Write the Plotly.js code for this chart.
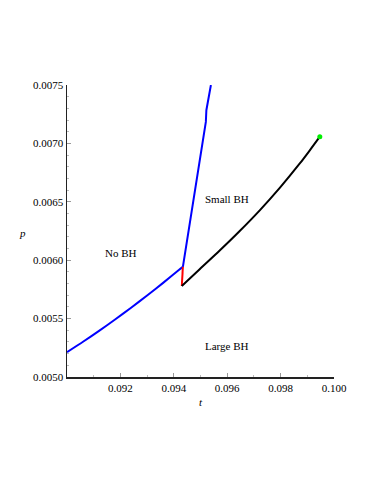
<!DOCTYPE html>
<html>
<head>
<meta charset="utf-8">
<script src="https://cdn.plot.ly/plotly-3.0.1.min.js"></script>
<style>
  html, body { margin: 0; padding: 0; background: #fff; }
  #chart { width: 374px; height: 484px; }
</style>
</head>
<body>
<div id="chart"></div>
<script>
// Phase boundaries in the (t, p) plane
const noBhT = [0.0900, 0.0906, 0.0912, 0.0918, 0.0924, 0.0930, 0.0936, 0.0942, 0.09434];
const noBhP = [0.005213, 0.005302, 0.005395, 0.005492, 0.005593, 0.005698, 0.005806, 0.005918, 0.005943];

const smallBhT = [0.09434, 0.09509, 0.09520, 0.09522, 0.09539];
const smallBhP = [0.005943, 0.007027, 0.007184, 0.007284, 0.007500];

const redT = [0.09434, 0.09430];
const redP = [0.005943, 0.005779];

const largeBhT = [0.09430, 0.094969, 0.095719, 0.096469, 0.097219, 0.097969, 0.098719, 0.099094, 0.099469];
const largeBhP = [0.005779, 0.005923, 0.006083, 0.006250, 0.006427, 0.006619, 0.006828, 0.006941, 0.007058];

const critT = [0.099469];
const critP = [0.007058];

const xTicks = [0.092, 0.094, 0.096, 0.098, 0.100];
const yTicks = [0.0050, 0.0055, 0.0060, 0.0065, 0.0070, 0.0075];

const regionNames = ['No BH', 'Small BH', 'Large BH'];
const regionT = [0.09203, 0.09599, 0.09599];
const regionP = [0.006064, 0.006521, 0.005269];

const serif = "'Liberation Serif', 'Times New Roman', Times, serif";

const data = [
  { x: noBhT, y: noBhP, mode: 'lines', line: { color: '#0000ff', width: 2, shape: 'spline', smoothing: 0.6 } },
  { x: smallBhT, y: smallBhP, mode: 'lines', line: { color: '#0000ff', width: 2 } },
  { x: redT, y: redP, mode: 'lines', line: { color: '#ff0000', width: 2 } },
  { x: largeBhT, y: largeBhP, mode: 'lines', line: { color: '#000000', width: 2, shape: 'spline', smoothing: 0.8 } },
  { x: critT, y: critP, mode: 'markers', marker: { color: '#00ee00', size: 5 } }
];

// plot box in pixels
const L = 67, R = 40, T = 85, B = 107, W = 374, H = 484;
const pw = W - L - R, ph = H - T - B;

const annotations = regionNames.map((name, i) => ({
  x: regionT[i], y: regionP[i], xref: 'x', yref: 'y',
  text: name, showarrow: false,
  font: { family: serif, size: 11, color: '#000' }
}));
// axis titles, placed like the original (t under the axis, p left of it, not rotated)
annotations.push({
  x: 0.5, y: 1 - (402 - T) / ph, xref: 'paper', yref: 'paper',
  text: '<i>t</i>', showarrow: false, yanchor: 'middle',
  font: { family: serif, size: 11, color: '#000' }
});
annotations.push({
  x: (22.7 - L) / pw, y: 1 - (232.7 - T) / ph, xref: 'paper', yref: 'paper',
  text: '<i>p</i>', showarrow: false, xanchor: 'center',
  font: { family: serif, size: 11, color: '#000' }
});

const layout = {
  width: W, height: H,
  margin: { l: L, r: R, t: T, b: B },
  showlegend: false,
  paper_bgcolor: '#fff',
  plot_bgcolor: '#fff',
  xaxis: {
    range: [0.090, 0.100],
    tickvals: xTicks,
    ticktext: xTicks.map(v => v.toFixed(3)),
    ticks: 'inside', ticklen: 4, tickcolor: '#999',
    minor: { dtick: 0.001, ticks: 'inside', ticklen: 2, tickcolor: '#bbb' },
    showgrid: false, zeroline: false,
    showline: true, linecolor: '#222', linewidth: 1.5,
    tickfont: { family: serif, size: 11, color: '#000' }
  },
  yaxis: {
    range: [0.0050, 0.0075],
    tickvals: yTicks,
    ticktext: yTicks.map(v => v.toFixed(4)),
    ticks: 'inside', ticklen: 4, tickcolor: '#999',
    minor: { dtick: 0.0001, ticks: 'inside', ticklen: 2, tickcolor: '#bbb' },
    showgrid: false, zeroline: false,
    showline: true, linecolor: '#222', linewidth: 1.5,
    tickfont: { family: serif, size: 11, color: '#000' }
  },
  annotations: annotations
};

Plotly.newPlot('chart', data, layout, { displayModeBar: false, staticPlot: true });
</script>
</body>
</html>
